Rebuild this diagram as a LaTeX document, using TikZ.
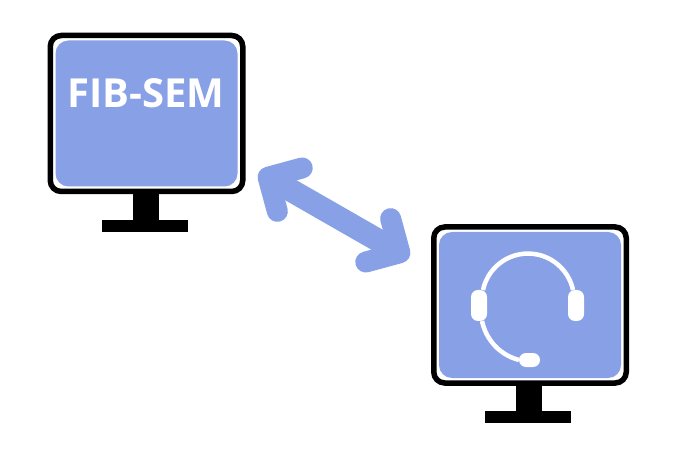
\documentclass[tikz,border=0pt]{standalone}
\usepackage{fontspec}
\setmainfont{Open Sans}
\usetikzlibrary{positioning,arrows.meta}
\definecolor{screenblue}{HTML}{88A1E6}
\begin{document}
\begin{tikzpicture}[x=1pt,y=-1pt,
	every node/.style={inner sep=0,outer sep=0},
	frame/.style={draw=black,line width=5.5pt,fill=white,rounded corners=11pt,minimum width=192.5pt,minimum height=156pt},
	screen/.style={fill=screenblue,rounded corners=13pt,minimum width=182pt,minimum height=146pt},
	neck/.style={fill=black,minimum width=26pt,minimum height=26pt},
	foot/.style={fill=black,minimum width=86pt,minimum height=12pt},
	ear/.style={fill=white,rounded corners=7pt,minimum width=16pt,minimum height=31pt},
	band/.style={draw=white,line width=4.5pt}]
\useasboundingbox (0,0) rectangle (680,454);
\node[frame] (fibframe) at (146.5,113.5) {};
\node[screen] (fibscreen) at (fibframe.center) {};
\node[neck,below=2.5pt of fibframe,xshift=-.5pt] (fibneck) {};
\node[foot,below=0pt of fibneck,xshift=-1pt] (fibfoot) {};
\node[text=white,font=\bfseries\fontsize{40}{40}\selectfont] (fiblabel) at (146,93) {FIB-SEM};
\node[frame] (helpframe) at (530,305) {};
\node[screen] (helpscreen) at (helpframe.center) {};
\node[neck,below=2.5pt of helpframe,xshift=-1pt] (helpneck) {};
\node[foot,below=0pt of helpneck,xshift=-1pt,yshift=1pt] (helpfoot) {};
\node[ear] (earleft) at (479,305.5) {};
\node[ear] (earright) at (576,305.5) {};
\node[fill=white,rounded corners=7pt,minimum width=21pt,minimum height=14pt] (mic) at (529.5,360) {};
\draw[band] ([xshift=4pt]earleft.north) arc[start angle=192,delta angle=156,radius=46];
\draw[band] ([xshift=3pt]earleft.south) .. controls (486,340) and (500,355) .. (mic.west);
\coordinate (tipfib) at (259,172);
\coordinate (tiphelp) at (409,258);
\draw[screenblue,line width=23pt,{Straight Barb[round,length=25pt,width=50pt,line width=21pt]}-{Straight Barb[round,length=25pt,width=50pt,line width=21pt]}] (tipfib) -- (tiphelp);
\end{tikzpicture}
\end{document}
